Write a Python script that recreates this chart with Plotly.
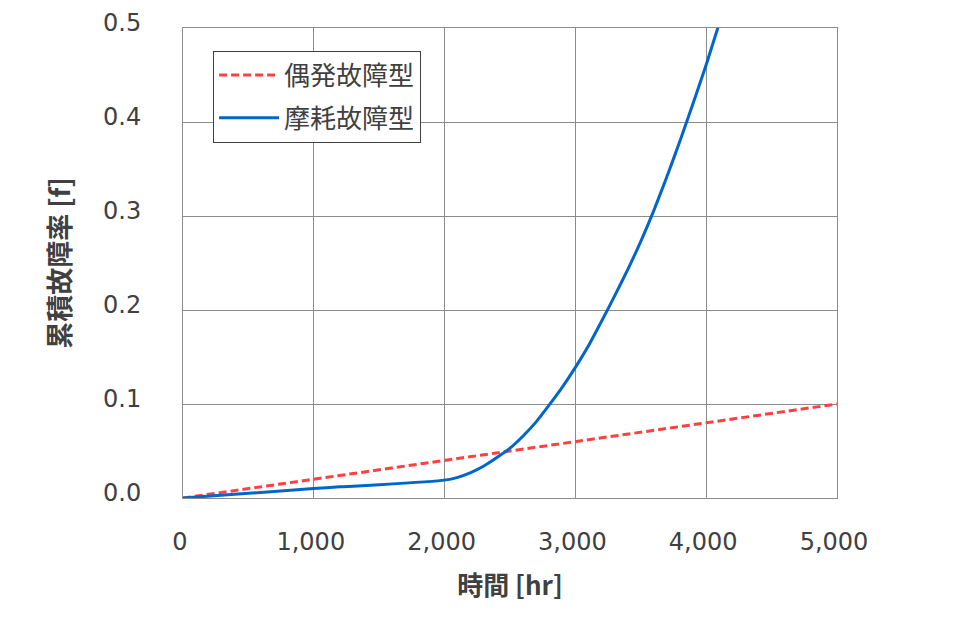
import plotly.graph_objects as go

# Data
t_random = [0, 1000, 2000, 3000, 4000, 5000]
f_random = [0.0, 0.02, 0.04, 0.06, 0.08, 0.10]

t_wear = [0, 500, 1000, 1200, 1300, 1500, 2000, 2100, 2200, 2300, 2400, 2500, 2600, 2700,
          2800, 2900, 3000, 3100, 3200, 3300, 3400, 3500, 3600, 3700, 3800, 3900, 4000, 4100]
f_wear = [0.0, 0.005, 0.010, 0.012, 0.0125, 0.014, 0.019, 0.022, 0.027, 0.034, 0.043, 0.053,
          0.066, 0.081, 0.099, 0.118, 0.139, 0.162, 0.188, 0.215, 0.243, 0.273, 0.306, 0.342,
          0.380, 0.420, 0.461, 0.505]

x_ticks = [0, 1000, 2000, 3000, 4000, 5000]
y_ticks = [0.0, 0.1, 0.2, 0.3, 0.4, 0.5]

font_fam = "Noto Sans CJK JP, DejaVu Sans, sans-serif"
num_font = "DejaVu Sans, sans-serif"

fig = go.Figure()
fig.add_trace(go.Scatter(x=t_random, y=f_random, mode="lines", name="偶発故障型",
                         legendgroup="a",
                         line=dict(color="#FF4040", width=3, dash="8px,4px")))
fig.add_trace(go.Scatter(x=t_wear, y=f_wear, mode="lines", name="摩耗故障型",
                         legendgroup="b",
                         line=dict(color="#0066CC", width=3, shape="spline", smoothing=0.5)))

fig.update_layout(
    width=977, height=638,
    margin=dict(l=175, r=148, t=20, b=148, autoexpand=False),
    paper_bgcolor="white", plot_bgcolor="white",
    font=dict(family=font_fam, color="#404040", size=20),
    showlegend=True,
    legend=dict(x=0.046, y=0.952, xanchor="left", yanchor="top",
                bordercolor="#404040", borderwidth=1, bgcolor="white",
                itemwidth=60, tracegroupgap=6,
                font=dict(size=26, color="#404040", family=font_fam)),
    xaxis=dict(range=[0, 5000], tickvals=x_ticks, tickformat=",d", automargin=False,
               showgrid=True, gridcolor="#8C8C8C", gridwidth=1,
               showline=True, linecolor="#8C8C8C", linewidth=1, mirror=True,
               zeroline=False, ticks="", ticklabelstandoff=22, ticklabelshift=-3,
               tickfont=dict(family=num_font, size=24, color="#404040"),
               title=dict(text="<b>時間 [hr]</b>", standoff=22,
                          font=dict(size=26, color="#404040"))),
    yaxis=dict(range=[0, 0.5], tickvals=y_ticks, tickformat=".1f", automargin=False,
               showgrid=True, gridcolor="#8C8C8C", gridwidth=1,
               showline=True, linecolor="#8C8C8C", linewidth=1, mirror=True,
               zeroline=False, ticks="", ticklabelstandoff=36, ticklabelshift=-5,
               tickfont=dict(family=num_font, size=24, color="#404040"),
               title=dict(text="<b>累積故障率 [f]</b>", standoff=24,
                          font=dict(size=27, color="#404040"))),
)

fig.write_html("out.html")
